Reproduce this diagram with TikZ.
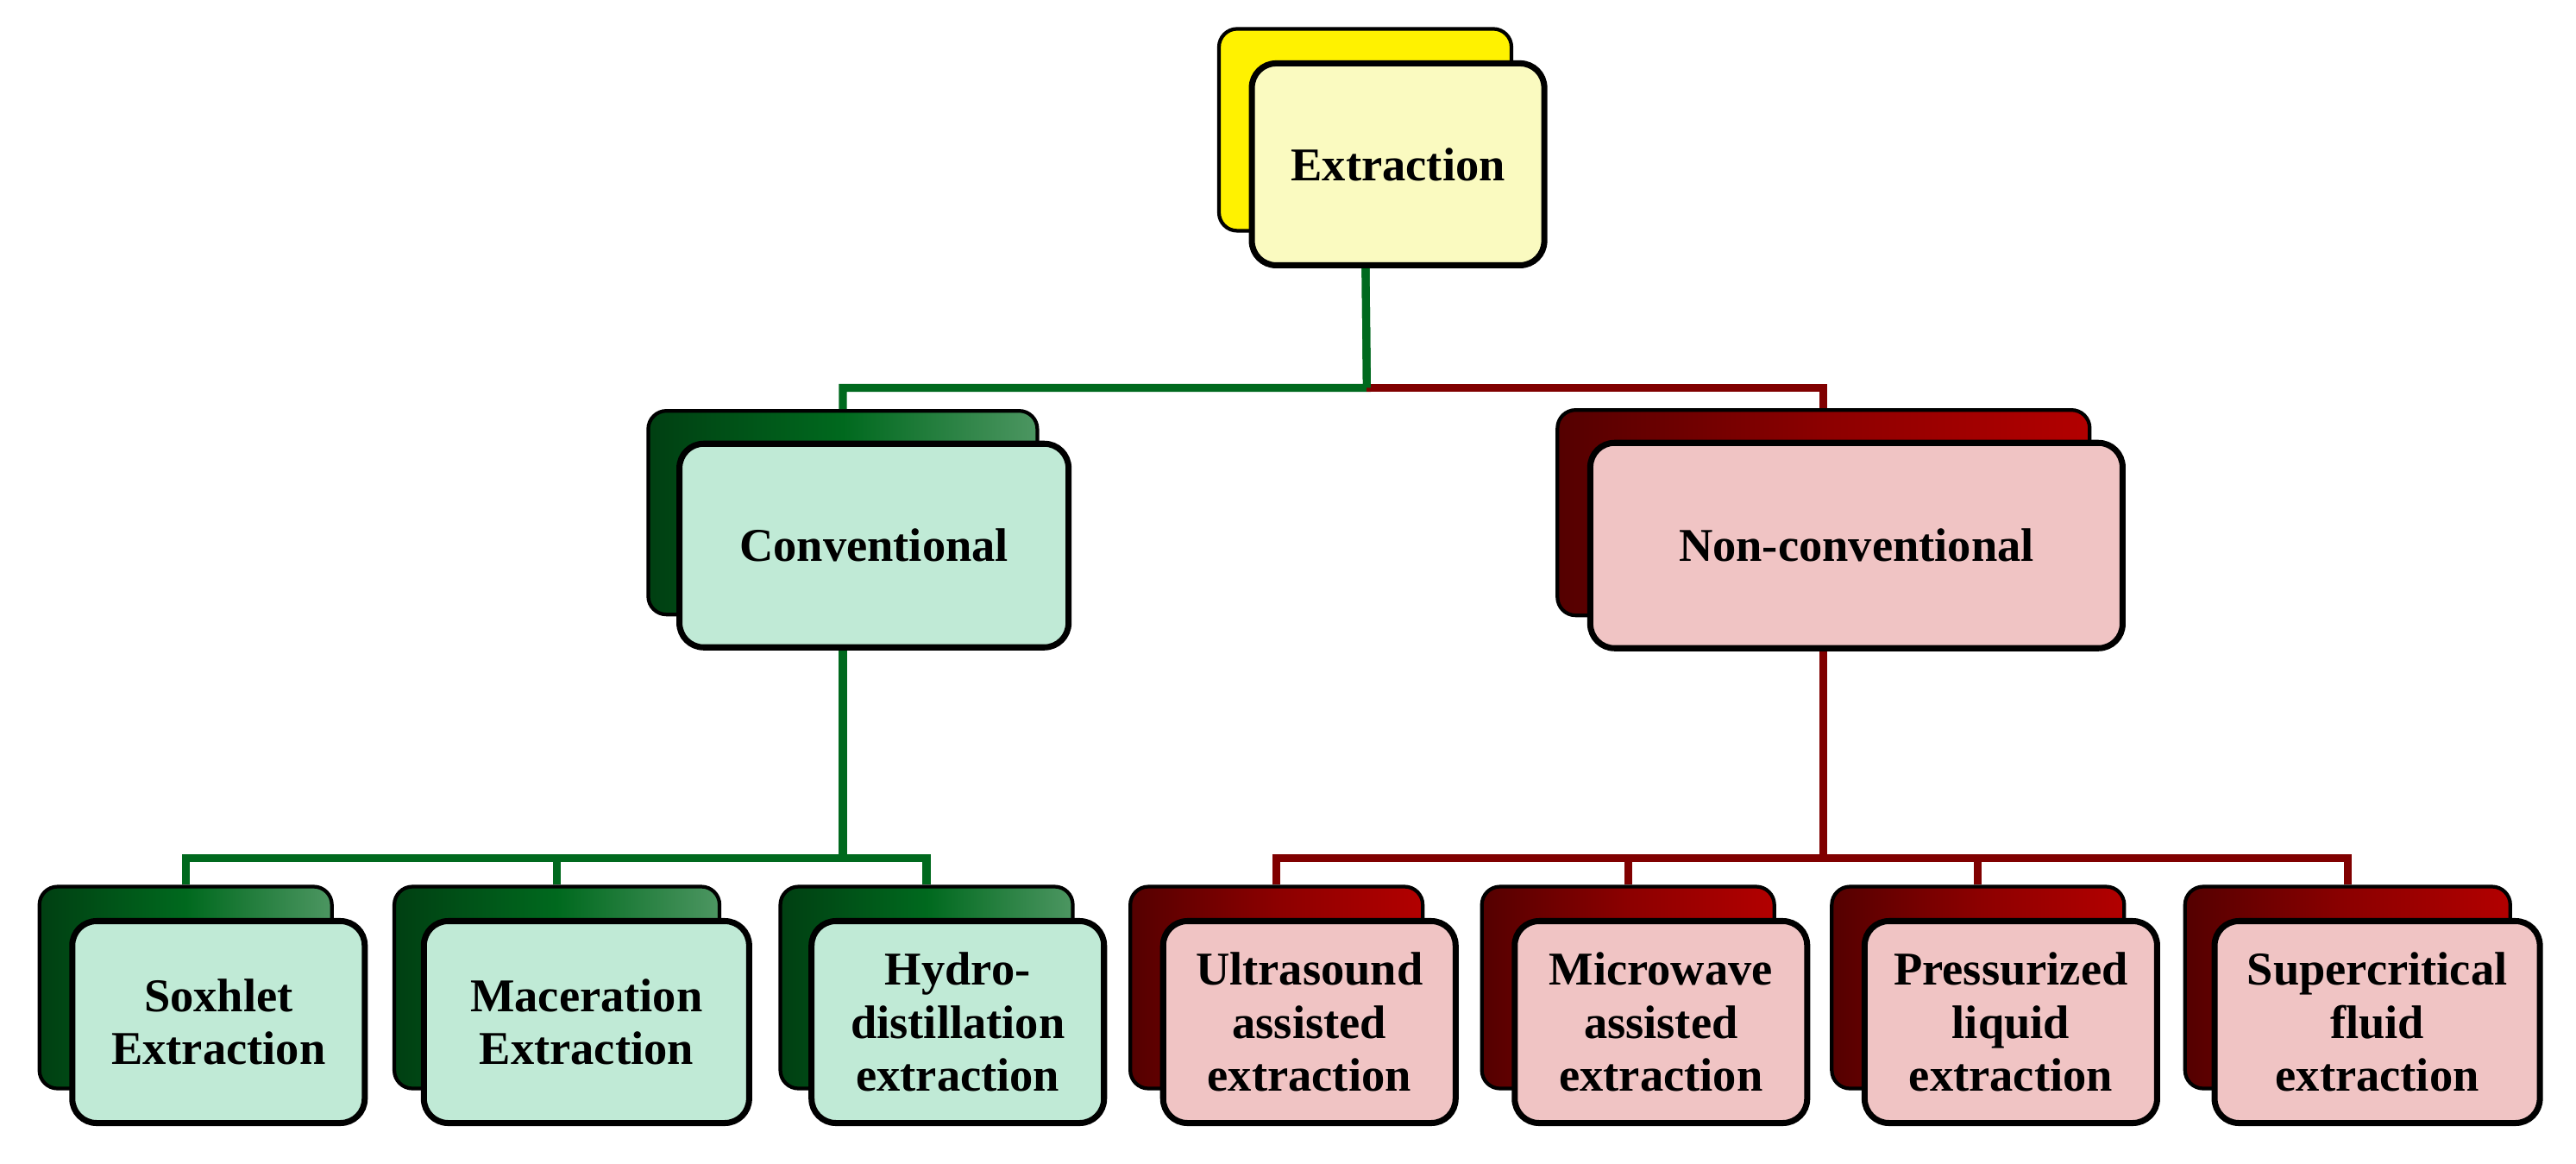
\documentclass[tikz,border=0pt]{standalone}
\usepackage{fontspec}
\setmainfont{Liberation Serif}
\usetikzlibrary{positioning}
\definecolor{leafgreen}{RGB}{0,105,30}
\definecolor{mintface}{RGB}{192,234,214}
\definecolor{bloodred}{RGB}{140,0,0}
\definecolor{pinkface}{RGB}{240,196,196}
\definecolor{lemonface}{RGB}{250,250,192}
\definecolor{connred}{RGB}{128,0,0}

\tikzset{
  back/.style={rounded corners=6pt, draw=black, line width=1.2pt, inner sep=0pt},
  gback/.style={back, left color=leafgreen!60!black, right color=leafgreen!70, middle color=leafgreen},
  rback/.style={back, left color=bloodred!60!black, right color=red!70!black, middle color=bloodred},
  yback/.style={back, fill=yellow},
  front/.style={rounded corners=8pt, draw=black, line width=2pt, inner sep=2pt,
    align=center, font=\fontsize{15.5}{17.5}\selectfont\bfseries},
  gline/.style={leafgreen, line width=2.6pt},
  rline/.style={connred, line width=2.6pt}
}

\begin{document}
\begin{tikzpicture}[x=0.01904cm, y=-0.01904cm]
\useasboundingbox (0,0) rectangle (1568,708);

% shadow boxes
\node[yback, minimum width=3.39cm, minimum height=2.34cm] (ex-b) at (831,79) {};
\node[gback, minimum width=4.51cm, minimum height=2.36cm] (conv-b) at (513,312) {};
\node[rback, minimum width=6.17cm, minimum height=2.38cm] (nonc-b) at (1110,312) {};
\foreach \n/\x/\w in {sox/113/3.39, mac/339/3.77, hyd/564/3.39}
  \node[gback, minimum width=\w cm, minimum height=2.34cm] (\n-b) at (\x,601) {};
\foreach \n/\x/\w in {ult/777/3.39, mic/991/3.39, pre/1204/3.39, sup/1429/3.77}
  \node[rback, minimum width=\w cm, minimum height=2.34cm] (\n-b) at (\x,601) {};

% connectors
\coordinate (top) at (832,236);
\coordinate (cj) at (513,522);
\coordinate (nj) at (1110,522);
\draw[gline] (ex-b.south) -- (top) -| (conv-b.north);
\draw[rline] (top) -| (nonc-b.north);
\draw[gline] (ex-b.south) -- (top);
\draw[gline] (conv-b.south) -- (cj);
\draw[gline] (sox-b.north) |- (cj) -| (hyd-b.north);
\draw[gline] (mac-b.north) -- (mac-b.north |- cj);
\draw[rline] (nonc-b.south) -- (nj);
\draw[rline] (ult-b.north) |- (nj) -| (sup-b.north);
\draw[rline] (mic-b.north) -- (mic-b.north |- nj);
\draw[rline] (pre-b.north) -- (pre-b.north |- nj);

% front boxes
\node[front, fill=lemonface, minimum width=3.39cm, minimum height=2.34cm] (ex) at (851,100) {Extraction};
\node[front, fill=mintface, minimum width=4.51cm, minimum height=2.36cm] (conv) at (532,332) {Conventional};
\node[front, fill=pinkface, minimum width=6.17cm, minimum height=2.38cm] (nonc) at (1130,332) {Non-conventional};
\node[front, fill=mintface, minimum width=3.39cm, minimum height=2.34cm] (sox) at (133,622) {Soxhlet\\Extraction};
\node[front, fill=mintface, minimum width=3.77cm, minimum height=2.34cm] (mac) at (357,622) {Maceration\\Extraction};
\node[front, fill=mintface, minimum width=3.39cm, minimum height=2.34cm] (hyd) at (583,622) {Hydro-\\distillation\\extraction};
\node[front, fill=pinkface, minimum width=3.39cm, minimum height=2.34cm] (ult) at (797,622) {Ultrasound\\assisted\\extraction};
\node[front, fill=pinkface, minimum width=3.39cm, minimum height=2.34cm] (mic) at (1011,622) {Microwave\\assisted\\extraction};
\node[front, fill=pinkface, minimum width=3.39cm, minimum height=2.34cm] (pre) at (1224,622) {Pressurized\\liquid\\extraction};
\node[front, fill=pinkface, minimum width=3.77cm, minimum height=2.34cm] (sup) at (1447,622) {Supercritical\\fluid\\extraction};
\end{tikzpicture}
\end{document}
